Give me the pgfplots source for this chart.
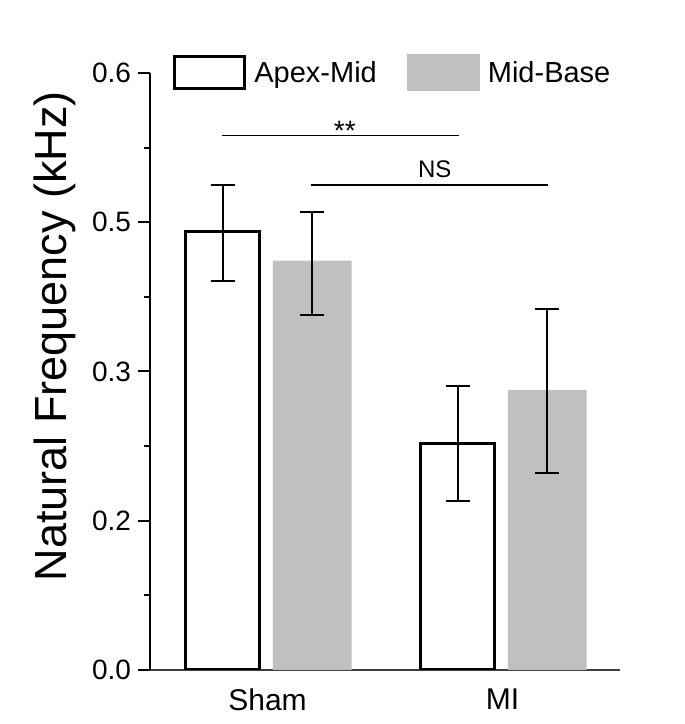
\documentclass[border=0pt]{standalone}
\usepackage{fontspec}
\setmainfont{Liberation Sans}
\usepackage{pgfplots}
\usepackage{pgfplotstable}
\pgfplotsset{compat=1.18}
\definecolor{barg}{HTML}{C0C0C0}

% x  mean  err+  err-
\pgfplotstableread{
x     y      ep     em
0.81  0.4402 0.0472 0.0492
1.81  0.2278 0.0579 0.0576
}\apexmid
\pgfplotstableread{
x     y      ep     em
1.19  0.4114 0.0492 0.0546
2.19  0.2814 0.0814 0.0837
}\midbase

\begin{document}
\begin{tikzpicture}
\begin{axis}[
  at={(0,0)}, anchor=south west,
  scale only axis, width=235pt, height=298.5pt,
  xmin=0.5, xmax=2.5, ymin=0, ymax=0.6,
  axis x line*=bottom, axis y line*=left,
  y axis line style={line width=1pt, black, -},
  x axis line style={line width=0.7pt, black!75, -},
  tick align=outside,
  xtick={1,2}, xticklabels={Sham,MI},
  major x tick style={draw=none},
  ytick={0,0.15,0.3,0.45,0.6},
  yticklabels={0.0,0.2,0.3,0.5,0.6},
  minor y tick num=1,
  major tick length=6pt, minor tick length=3pt,
  y tick style={line width=1pt, black},
  yticklabel style={font=\fontsize{14}{16}\selectfont},
  xticklabel style={font=\fontsize{15}{17}\selectfont},
  ylabel={Natural Frequency (kHz)},
  ylabel style={font=\fontsize{22.5}{26}\selectfont, at={(rel axis cs:-0.2021,0.559)}, anchor=center},
  legend style={draw=none, fill=none, at={(rel axis cs:0,1)}, anchor=west,
    xshift=11.5pt, inner xsep=0pt, inner ysep=0pt,
    font=\fontsize{14.5}{16}\selectfont, legend columns=2,
    /tikz/every odd column/.append style={column sep=2pt},
    /tikz/every even column/.append style={column sep=13pt}},
  legend cell align=left,
  error bars/error bar style={line width=1pt, black},
  error bars/error mark options={rotate=90, mark size=6pt, line width=1pt, black},
]
\addplot[ybar, bar width=0.315, bar shift=0pt, draw=black, line width=1.5pt, fill=white,
  legend image code/.code={\draw[line width=1.5pt, draw=black, fill=white] (0.75pt,-8pt) rectangle (35.75pt,8pt);},
  error bars/.cd, y dir=both, y explicit]
  table[x=x, y=y, y error plus=ep, y error minus=em] {\apexmid};
\addlegendentry{Apex-Mid}
\addplot[ybar, bar width=0.335, bar shift=0pt, draw=none, fill=barg,
  legend image code/.code={\fill[barg] (0pt,-9.25pt) rectangle (36.5pt,9.25pt);},
  error bars/.cd, y dir=both, y explicit]
  table[x=x, y=y, y error plus=ep, y error minus=em] {\midbase};
\addlegendentry{Mid-Base}
\addplot[black, line width=0.65pt, forget plot] coordinates {(0.808,0.537) (1.816,0.537)};
\addplot[black, line width=0.8pt, forget plot] coordinates {(1.184,0.4874) (2.195,0.4874)};
\node[font=\fontsize{14}{16}\selectfont, anchor=base, inner sep=0pt] at (axis cs:1.329,0.5317) {**};
\node[font=\fontsize{12}{14}\selectfont, anchor=base, inner sep=0pt] at (axis cs:1.712,0.4945) {NS};
\end{axis}
\pgfresetboundingbox
\path[use as bounding box] (-75pt,-27pt) rectangle (267.5pt,335pt);
\end{tikzpicture}
\end{document}
